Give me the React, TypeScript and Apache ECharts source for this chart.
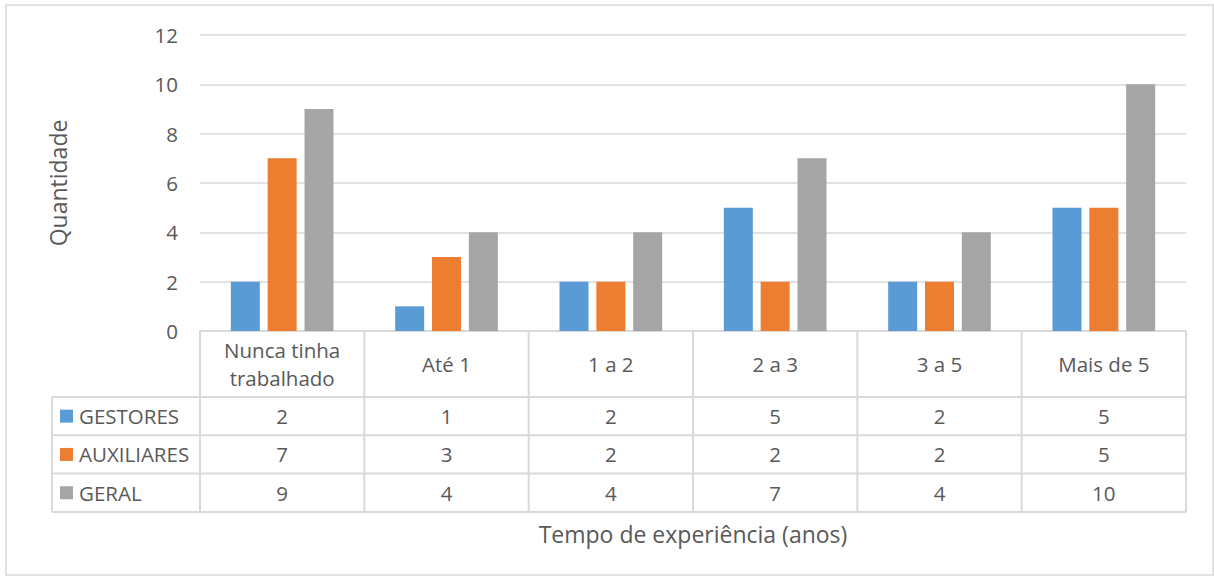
import React, { useEffect, useRef } from "react";
import * as echarts from "echarts";

const categories = ["Nunca tinha\ntrabalhado", "Até 1", "1 a 2", "2 a 3", "3 a 5", "Mais de 5"];
const seriesNames = ["GESTORES", "AUXILIARES", "GERAL"];
const gestores = [2, 1, 2, 5, 2, 5];
const auxiliares = [7, 3, 2, 2, 2, 5];
const geral = [9, 4, 4, 7, 4, 10];
const colors = ["#5B9BD5", "#ED7D31", "#A5A5A5"];
const yTicks = { min: 0, max: 12, interval: 2 };

const FONT = "Open Sans";
const FS = 20.5;
const FS_NAME = 23;
const TXT = "#595959";
const LINE = "#D9D9D9";

export default function App() {
  const ref = useRef<HTMLDivElement>(null);
  useEffect(() => {
    if (!ref.current) return;
    const chart = echarts.init(ref.current, undefined, { renderer: "svg" });
    const W = 1214;
    const gridLeft = 200, gridRight = 28, gridTop = 35, gridBottom = 576 - 331;
    const allSeries = [gestores, auxiliares, geral];
    chart.setOption({
      animation: false,
      backgroundColor: "#FFFFFF",
      textStyle: { fontFamily: FONT },
      grid: { left: gridLeft, right: gridRight, top: gridTop, bottom: gridBottom, containLabel: false },
      xAxis: {
        type: "category",
        data: categories,
        axisLine: { show: true, lineStyle: { color: LINE, width: 2 } },
        axisTick: { show: false },
        axisLabel: {
          color: TXT, fontSize: FS, fontFamily: FONT, margin: 33,
          verticalAlign: "middle", lineHeight: 28, interval: 0,
        },
        name: "Tempo de experiência (anos)",
        nameLocation: "middle",
        nameGap: 203,
        nameTextStyle: { color: TXT, fontSize: FS_NAME, fontFamily: FONT, verticalAlign: "middle" },
      },
      yAxis: {
        type: "value",
        min: yTicks.min, max: yTicks.max, interval: yTicks.interval,
        axisLine: { show: false },
        axisTick: { show: false },
        axisLabel: { color: TXT, fontSize: FS, fontFamily: FONT, margin: 22 },
        splitLine: { lineStyle: { color: LINE, width: 1.5 } },
        name: "Quantidade",
        nameLocation: "middle",
        nameGap: 142,
        nameTextStyle: { color: TXT, fontSize: FS_NAME, fontFamily: FONT, verticalAlign: "middle" },
      },
      series: allSeries.map((d, i) => ({
        type: "bar",
        name: seriesNames[i],
        data: d,
        barWidth: 29,
        barGap: "27%",
        itemStyle: { color: colors[i] },
      })),
    });

    const y0 = chart.convertToPixel({ yAxisIndex: 0 }, 0) as number;
    const headerBottom = y0 + 66;
    const rowH = 38.3;
    const left = 52;
    const xStart = gridLeft;
    const xEnd = W - gridRight;
    const colW = (xEnd - xStart) / categories.length;
    const g: any[] = [];
    g.push({ type: "rect", shape: { x: 6, y: 5, width: 1207, height: 570 }, style: { fill: "none", stroke: LINE, lineWidth: 1.5 }, silent: true });
    for (let r = 0; r <= seriesNames.length; r++) {
      const y = headerBottom + r * rowH;
      g.push({ type: "line", shape: { x1: left, y1: y, x2: xEnd, y2: y }, style: { stroke: LINE, lineWidth: 2 } });
    }
    const tableBottom = headerBottom + seriesNames.length * rowH;
    g.push({ type: "line", shape: { x1: left, y1: headerBottom, x2: left, y2: tableBottom }, style: { stroke: LINE, lineWidth: 2 } });
    for (let c = 0; c <= categories.length; c++) {
      const x = xStart + c * colW;
      g.push({ type: "line", shape: { x1: x, y1: y0, x2: x, y2: tableBottom }, style: { stroke: LINE, lineWidth: 2 } });
    }
    allSeries.forEach((d, r) => {
      const cy = headerBottom + (r + 0.5) * rowH;
      g.push({ type: "rect", shape: { x: 60, y: cy - 6.5, width: 13, height: 13 }, style: { fill: colors[r] } });
      g.push({ type: "text", x: 79, y: cy, style: { text: seriesNames[r], fill: TXT, font: `20.5px '${FONT}'`, verticalAlign: "middle", align: "left" } });
      d.forEach((v, c) => {
        const cx = chart.convertToPixel({ xAxisIndex: 0 }, c) as number;
        g.push({ type: "text", x: cx, y: cy, style: { text: String(v), fill: TXT, font: `${FS}px '${FONT}'`, verticalAlign: "middle", align: "center" } });
      });
    });
    chart.setOption({ graphic: g });
    return () => chart.dispose();
  }, []);
  return <div ref={ref} style={{ position: "fixed", left: 0, top: 0, width: 1214, height: 576 }} />;
}
